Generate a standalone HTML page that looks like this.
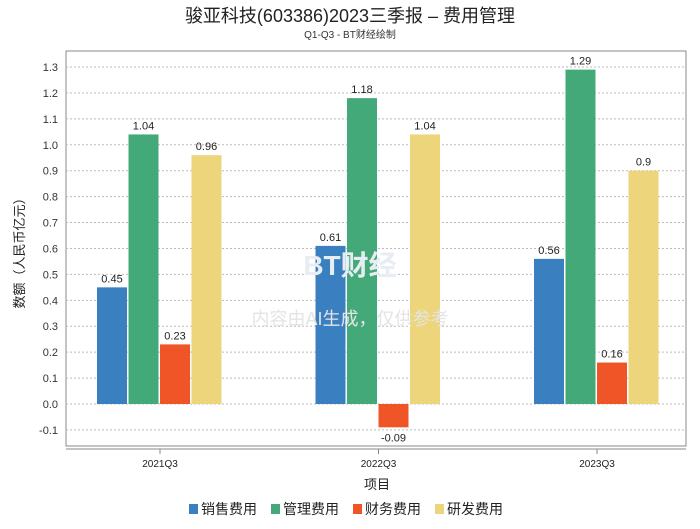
<!DOCTYPE html>
<html><head><meta charset="utf-8"><style>
body{margin:0;background:#fff;font-family:"Liberation Sans","Noto Sans CJK SC",sans-serif;}
svg text{font-family:"Liberation Sans","Noto Sans CJK SC",sans-serif;}
</style></head><body>
<svg id="c" width="700" height="524" xmlns="http://www.w3.org/2000/svg">
<text x="350" y="22" text-anchor="middle" font-size="18" fill="#222">骏亚科技(603386)2023三季报 – 费用管理</text>
<text x="350" y="38" text-anchor="middle" font-size="10" fill="#333">Q1-Q3 - BT财经绘制</text>
<rect x="66" y="51" width="620" height="395" fill="none" stroke="#888"/>
<line x1="66" y1="449" x2="686" y2="449" stroke="#888"/>
<g id="grid"></g><g id="bars"></g><g id="labels"></g>
<text x="350" y="275" text-anchor="middle" font-size="28" fill="#e8edf4" font-weight="bold">BT财经</text>
<text x="350" y="325" text-anchor="middle" font-size="18" fill="#e4e4e4">内容由AI生成，仅供参考</text>
<text x="377" y="489" text-anchor="middle" font-size="13" fill="#222">项目</text>
<text transform="translate(24,250) rotate(-90)" text-anchor="middle" font-size="13" fill="#222">数额（人民币亿元）</text>
<g id="legend"></g>
</svg>
<script>
const categories=["2021Q3","2022Q3","2023Q3"];
const seriesNames=["销售费用","管理费用","财务费用","研发费用"];
const colors=["#3a80c0","#44a978","#f05528","#ecd57a"];
const sales=[0.45,0.61,0.56];
const admin=[1.04,1.18,1.29];
const finance=[0.23,-0.09,0.16];
const rnd=[0.96,1.04,0.9];
const yTicks=[-0.1,0,0.1,0.2,0.3,0.4,0.5,0.6,0.7,0.8,0.9,1.0,1.1,1.2,1.3];
const series=[sales,admin,finance,rnd];
const NS="http://www.w3.org/2000/svg";
function y(v){return 404-v*259.2;}
function xc(i){return 160+i*218.5;}
function mk(t,a,p){const e=document.createElementNS(NS,t);for(const k in a)e.setAttribute(k,a[k]);p.appendChild(e);return e;}
const g=document.getElementById('grid');
yTicks.forEach(t=>{
const l=mk('line',{x1:66,x2:686,y1:y(t),y2:y(t),stroke:'#bbb','stroke-dasharray':'2,2'},g);


const tx=mk('text',{x:58,y:y(t)+4,'text-anchor':'end','font-size':11,fill:'#333'},g);
tx.textContent=t.toFixed(1);


});
categories.forEach((c,i)=>{
const tk=mk('line',{x1:xc(i),x2:xc(i),y1:449,y2:454,stroke:'#888'},g);


const tx=mk('text',{x:xc(i),y:467,'text-anchor':'middle','font-size':10,fill:'#222'},g);
tx.textContent=c;


});
const b=document.getElementById('bars'),lb=document.getElementById('labels');
series.forEach((s,k)=>{s.forEach((v,i)=>{
const x0=xc(i)-63+k*31.5;
const top=Math.min(y(v),y(0)),h=Math.abs(y(v)-y(0));
const r=mk('rect',{x:x0,y:top,width:30,height:h,fill:colors[k]},b);


const t=mk('text',{x:x0+15,y:v>=0?y(v)-5:y(v)+14,'text-anchor':'middle','font-size':11,fill:'#222'},lb);
t.textContent=String(v);


});});
const lg=document.getElementById('legend');
let lx=189;
seriesNames.forEach((n,k)=>{
const r=mk('rect',{x:lx,y:504,width:9,height:10,fill:colors[k]},lg);


const t=mk('text',{x:lx+12,y:514,'font-size':14,fill:'#222'},lg);
t.textContent=n;


lx+=82;
});
</script>
</body></html>
